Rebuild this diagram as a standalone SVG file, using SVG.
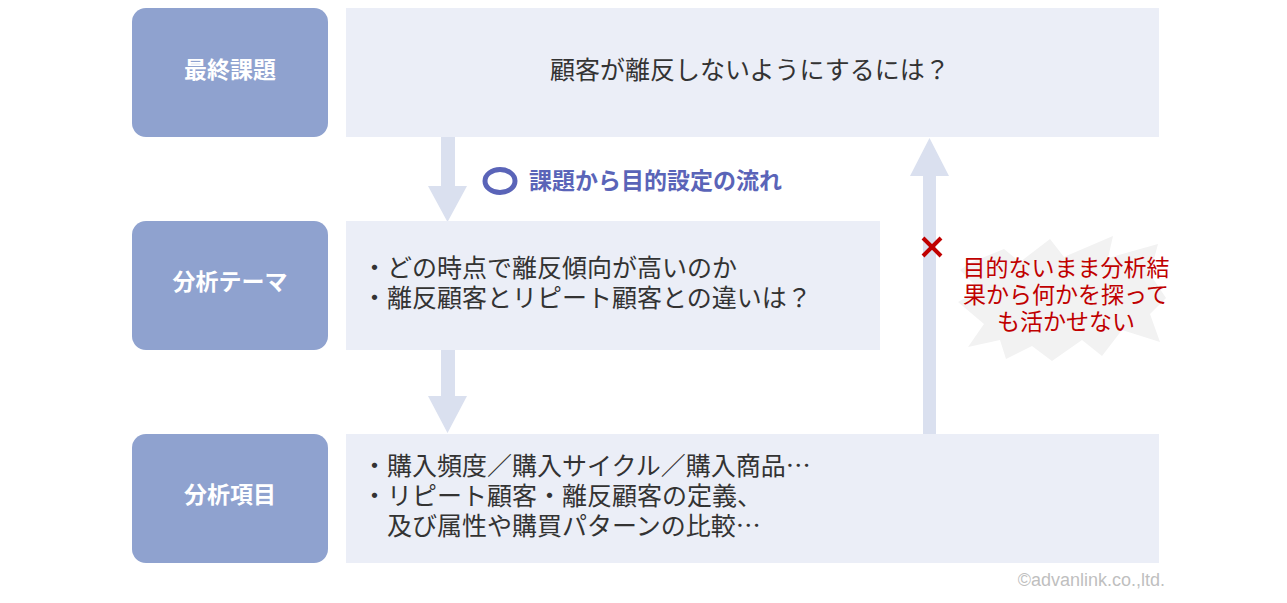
<svg xmlns="http://www.w3.org/2000/svg" width="1287" height="603" viewBox="0 0 1287 603">
<style>
.lbl{fill:#8FA2CF}
.box{fill:#EBEEF7}
.arr{fill:#DAE0EF}
.lt{font-family:"Noto Sans CJK JP","Noto Sans",sans-serif;font-size:23px;font-weight:bold;fill:#FFFFFF;text-anchor:middle}
.bt{font-family:"Noto Sans CJK JP","Noto Sans",sans-serif;font-size:25px;fill:#333333}
.rt{font-family:"Noto Sans CJK JP","Noto Sans",sans-serif;font-size:23px;fill:#C00000;text-anchor:middle}
</style>
<rect width="1287" height="603" fill="#FFFFFF"/>
<g id="burst">
<polygon fill="#F2F2F2" points="972,262 1004,249 1020,262 1050,239 1064,257 1113,236 1108,258 1158,244 1150,274 1166,298 1150,314 1160,342 1122,330 1102,356 1082,340 1052,361 1032,346 1006,359 1000,340 968,347 984,324 958,302 980,290 960,270"/>
</g>
<g id="connectors">
<polygon class="arr" points="441,137 455,137 455,186 467,186 447.5,222 428,186 441,186"/>
<polygon class="arr" points="441,350 455,350 455,396 467,396 447.5,433 428,396 441,396"/>
<polygon class="arr" points="923,434 936,434 936,176 949,176 929.5,138 910,176 923,176"/>
</g>
<g id="node-final">
<rect class="lbl" x="132" y="8" width="196" height="129" rx="14"/>
<text class="lt" x="230" y="78">最終課題</text>
</g>
<g id="node-final-body">
<rect class="box" x="346" y="8" width="813" height="129"/>
<text class="bt" x="750" y="79" text-anchor="middle">顧客が離反しないようにするには？</text>
</g>
<g id="node-theme">
<rect class="lbl" x="132" y="221" width="196" height="129" rx="14"/>
<text class="lt" x="230" y="290">分析テーマ</text>
</g>
<g id="node-theme-body">
<rect class="box" x="346" y="221" width="534" height="129"/>
<text class="bt"><tspan x="362" y="277">・どの時点で離反傾向が高いのか</tspan><tspan x="362" y="307">・離反顧客とリピート顧客との違いは？</tspan></text>
</g>
<g id="node-items">
<rect class="lbl" x="132" y="434" width="196" height="129" rx="14"/>
<text class="lt" x="230" y="503">分析項目</text>
</g>
<g id="node-items-body">
<rect class="box" x="346" y="434" width="813" height="129"/>
<text class="bt"><tspan x="362" y="475">・購入頻度／購入サイクル／購入商品…</tspan><tspan x="362" y="505">・リピート顧客・離反顧客の定義、</tspan><tspan x="362" y="535">　及び属性や購買パターンの比較…</tspan></text>
</g>
<g id="flow-label">
<ellipse cx="500" cy="181" rx="15" ry="11.5" fill="none" stroke="#5A64B8" stroke-width="5"/>
<text x="529" y="189" font-family="'Noto Sans CJK JP','Noto Sans',sans-serif" font-size="23" font-weight="bold" fill="#5A64B8">課題から目的設定の流れ</text>
</g>
<g id="fail-note">
<path d="M923,238 L941,256 M941,238 L923,256" stroke="#C00000" stroke-width="4" fill="none"/>
<text class="rt"><tspan x="1066" y="276">目的ないまま分析結</tspan><tspan x="1066" y="303">果から何かを探って</tspan><tspan x="1066" y="330">も活かせない</tspan></text>
</g>
<text x="1165" y="586" text-anchor="end" font-family="'Liberation Sans',sans-serif" font-size="18" fill="#BFBFBF">©advanlink.co.,ltd.</text>
</svg>
